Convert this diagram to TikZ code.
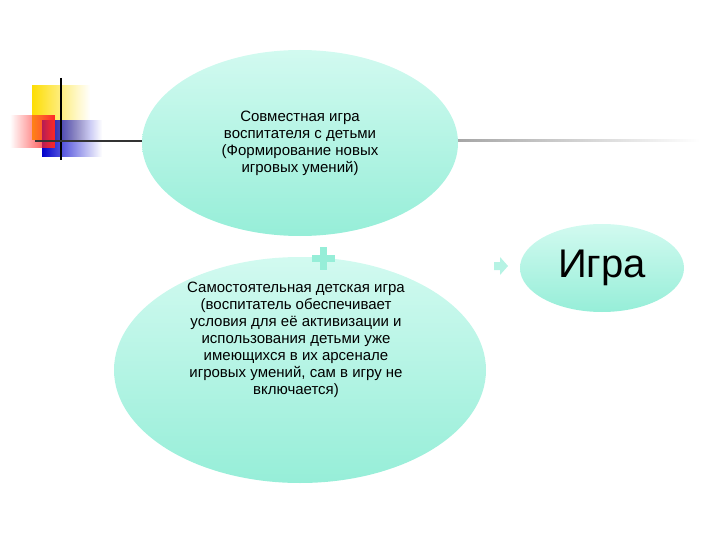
\documentclass[tikz,border=0pt]{standalone}
\usepackage{fontspec}
\setmainfont{Liberation Sans}
\usetikzlibrary{shapes.geometric,fadings}
\begin{document}
\begin{tikzpicture}[x=1pt,y=-1pt,
  oval/.style={ellipse,top color=mintA,bottom color=mintB,draw=none,inner sep=0pt},
  txt/.style={align=center,font=\fontsize{15}{17}\selectfont}]
\definecolor{mintA}{HTML}{D2FAF0}
\definecolor{mintB}{HTML}{96EED8}
\useasboundingbox (0,0) rectangle (720,540);
% decoration
\fill[yellow!80!orange,path fading=east] (32,85) rectangle (90,140);
\fill[blue!80!black,path fading=east] (42,120) rectangle (102,157);
\fill[red!85,path fading=west] (10,115) rectangle (55,148);
\draw[line width=2pt] (61,78) -- (61,160);
\draw[line width=2pt,black!80] (35,141) -- (143,141);
\shade[left color=black!35,right color=white] (458,140) rectangle (700,142);
\draw[black!15] (222,62) -- (222,100);
% ellipses
\node[oval,minimum width=316,minimum height=186] (e1) at (300,143) {};
\node[txt] at (300,143) {Совместная игра\\воспитателя с детьми\\(Формирование новых\\игровых умений)};
\node[oval,minimum width=372,minimum height=226] (e2) at (300,370) {};
\node[txt] (t2) at (296,340) {Самостоятельная детская игра\\(воспитатель обеспечивает\\условия для её активизации и\\использования детьми уже\\имеющихся в их арсенале\\игровых умений, сам в игру не\\включается)};
\node[oval,minimum width=164,minimum height=88] (e3) at (602,268) {};
\node[font=\fontsize{40}{44}\selectfont] at (602,268) {Игра};
% plus
\fill[mintB] (320,247) rectangle (327,270);
\fill[mintB] (312,255) rectangle (335,262);
% arrow
\fill[mintB!70] (494,262) -- (500,262) -- (500,257) -- (508,266) -- (500,275) -- (500,270) -- (494,270) -- cycle;
\end{tikzpicture}
\end{document}
